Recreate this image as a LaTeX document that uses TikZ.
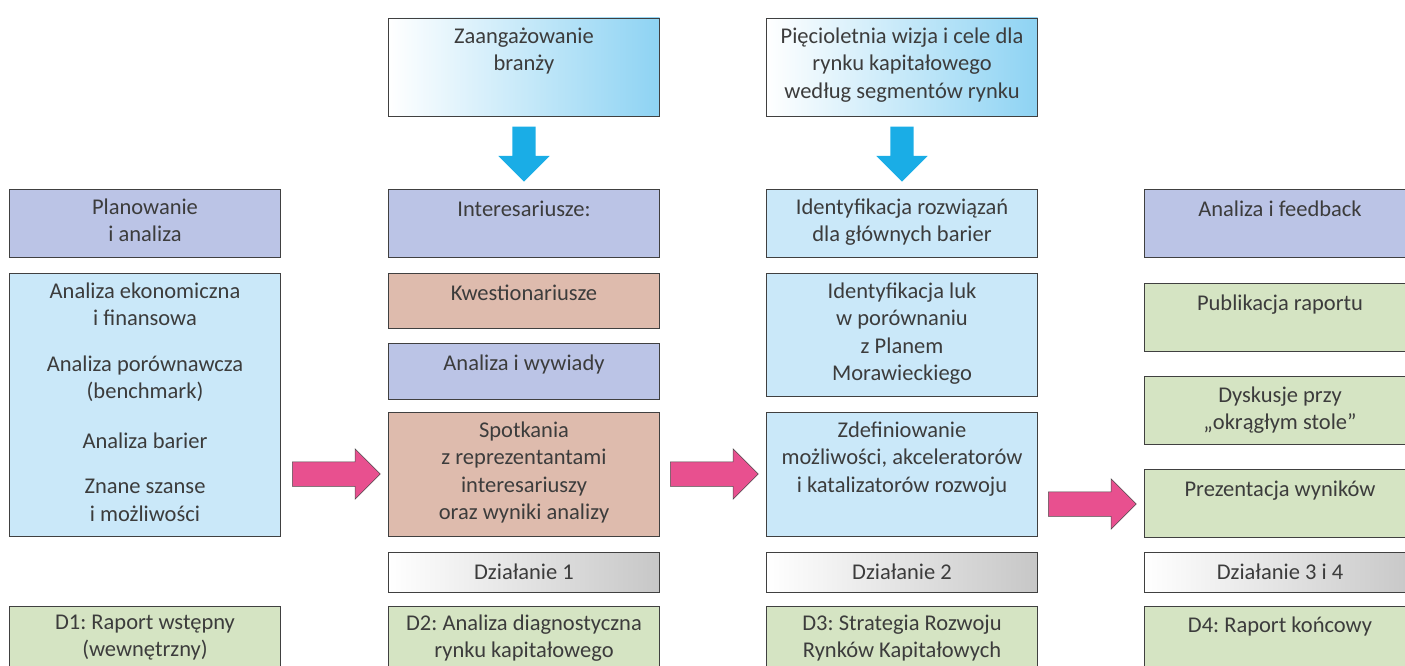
\documentclass[tikz,border=0pt]{standalone}
\usepackage{fontspec}
\setmainfont{Carlito}
\usetikzlibrary{positioning,calc,shapes.arrows}

\definecolor{hdrblue}{HTML}{BBC4E6}
\definecolor{lightblue}{HTML}{CAE8F9}
\definecolor{salmon}{HTML}{DEBBAD}
\definecolor{paleg}{HTML}{D5E4C3}
\definecolor{pinkarr}{HTML}{E8508F}
\definecolor{cyanarr}{HTML}{1AADE6}
\definecolor{skyend}{HTML}{8ED3F3}
\definecolor{txtgray}{HTML}{3C3C3C}

\tikzset{
  box/.style={draw=black!75, line width=.7pt, rectangle, inner sep=0pt,
    minimum width=271pt, fill=#1},
  skybox/.style={box=white, left color=white, right color=skyend},
  stepbar/.style={box=white, left color=white, right color=black!22, minimum height=40pt},
  txt/.style={anchor=north, align=center, inner sep=0pt, text=txtgray,
    font=\fontsize{22.5}{27.5}\selectfont\frenchspacing, execute at begin node=\rule{0pt}{18pt}},
  rightarr/.style={single arrow, draw=black!70, line width=.5pt, fill=pinkarr, anchor=tail,
    minimum height=88pt, minimum width=50pt, single arrow head extend=13pt,
    inner xsep=0pt, inner ysep=12pt},
  downarr/.style={single arrow, fill=cyanarr, rotate=-90, anchor=tail,
    minimum height=55pt, minimum width=51pt, single arrow head extend=14pt,
    inner xsep=0pt, inner ysep=11.5pt}
}

\begin{document}
\begin{tikzpicture}[x=1pt,y=-1pt]
    \useasboundingbox (0,0) rectangle (1405,666);
    \clip (0,0) rectangle (1405,666);

    % column 1
    \node[box=hdrblue, minimum height=68pt] (plan) at (145,223) {};
    \node[box=lightblue, minimum height=263pt] (analizy) at (145,404.5) {};
    \node[box=paleg, minimum height=70pt] (d1) at (145,641) {};

    % column 2
    \node[skybox, minimum height=98pt] (zaang) at (524,67) {};
    \node[box=hdrblue, minimum height=68pt] (inter) at (524,223) {};
    \node[box=salmon, minimum height=55pt] (kwest) at (524,300.5) {};
    \node[box=hdrblue, minimum height=56pt] (wywiad) at (524,371) {};
    \node[box=salmon, minimum height=124pt] (spotk) at (524,474) {};
    \node[stepbar] (dz1) at (524,572) {};
    \node[box=paleg, minimum height=70pt] (d2) at (524,641) {};

    % column 3
    \node[skybox, minimum height=98pt] (wizja) at (902,67) {};
    \node[box=lightblue, minimum height=68pt] (ident) at (902,223) {};
    \node[box=lightblue, minimum height=123pt] (luki) at (902,334.5) {};
    \node[box=lightblue, minimum height=124pt] (zdef) at (902,474) {};
    \node[stepbar] (dz2) at (902,572) {};
    \node[box=paleg, minimum height=70pt] (d3) at (902,641) {};

    % column 4
    \node[box=hdrblue, minimum height=68pt] (feedb) at (1280,223) {};
    \node[box=paleg, minimum height=68pt] (publ) at (1280,317) {};
    \node[box=paleg, minimum height=68pt] (dysk) at (1280,410) {};
    \node[box=paleg, minimum height=68pt] (prez) at (1280,503) {};
    \node[stepbar] (dz34) at (1280,572) {};
    \node[box=paleg, minimum height=70pt] (d4) at (1280,641) {};

    % texts
    \node[txt] (plantxt) at ([yshift=-10pt]plan.north) {Planowanie\\ i analiza};
    \node[txt] (analizytxt) at ([yshift=-10pt]analizy.north) {Analiza ekonomiczna\\ i finansowa\\[18pt]
      Analiza porównawcza\\ (benchmark)\\[22pt] Analiza barier\\[18pt] Znane szanse\\ i możliwości};
    \node[txt] (d1txt) at ([yshift=-9pt]d1.north) {D1: Raport wstępny\\ (wewnętrzny)};

    \node[txt] (zaangtxt) at ([yshift=-10pt]zaang.north) {Zaangażowanie\\ branży};
    \node[txt] (intertxt) at ([yshift=-10pt]inter.north) {Interesariusze:};
    \node[txt] (kwesttxt) at ([yshift=-10pt]kwest.north) {Kwestionariusze};
    \node[txt] (wywiadtxt) at ([yshift=-10pt]wywiad.north) {Analiza i wywiady};
    \node[txt] (spotktxt) at ([yshift=-10pt]spotk.north) {Spotkania\\ z reprezentantami\\ interesariuszy\\ oraz wyniki analizy};
    \node[txt] (dz1txt) at ([yshift=-10pt]dz1.north) {Działanie 1};
    \node[txt] (d2txt) at ([yshift=-9pt]d2.north) {D2: Analiza diagnostyczna\\ rynku kapitałowego};

    \node[txt] (wizjatxt) at ([yshift=-10pt]wizja.north) {Pięcioletnia wizja i cele dla\\ rynku kapitałowego\\ według segmentów rynku};
    \node[txt] (identtxt) at ([yshift=-10pt]ident.north) {Identyfikacja rozwiązań\\ dla głównych barier};
    \node[txt] (lukitxt) at ([yshift=-10pt]luki.north) {Identyfikacja luk\\ w porównaniu\\ z Planem\\ Morawieckiego};
    \node[txt] (zdeftxt) at ([yshift=-10pt]zdef.north) {Zdefiniowanie\\ możliwości, akceleratorów\\ i katalizatorów rozwoju};
    \node[txt] (dz2txt) at ([yshift=-10pt]dz2.north) {Działanie 2};
    \node[txt] (d3txt) at ([yshift=-9pt]d3.north) {D3: Strategia Rozwoju\\ Rynków Kapitałowych};

    \node[txt] (feedbtxt) at ([yshift=-10pt]feedb.north) {Analiza i feedback};
    \node[txt] (publtxt) at ([yshift=-10pt]publ.north) {Publikacja raportu};
    \node[txt] (dysktxt) at ([yshift=-11pt]dysk.north) {Dyskusje przy\\ „okrągłym stole”};
    \node[txt] (preztxt) at ([yshift=-10pt]prez.north) {Prezentacja wyników};
    \node[txt] (dz34txt) at ([yshift=-10pt]dz34.north) {Działanie 3 i 4};
    \node[txt] (d4txt) at ([yshift=-9pt]d4.north) {D4: Raport końcowy};

    % block arrows
    \node[downarr] (zaang2inter) at ([yshift=-10pt]zaang.south) {};
    \node[downarr] (wizja2ident) at ([yshift=-10pt]wizja.south) {};
    \node[rightarr] (anal2spotk) at (292,474) {};
    \node[rightarr] (spotk2zdef) at (670,474) {};
    \node[rightarr] (zdef2prez) at (1048,504) {};

\end{tikzpicture}
\end{document}
